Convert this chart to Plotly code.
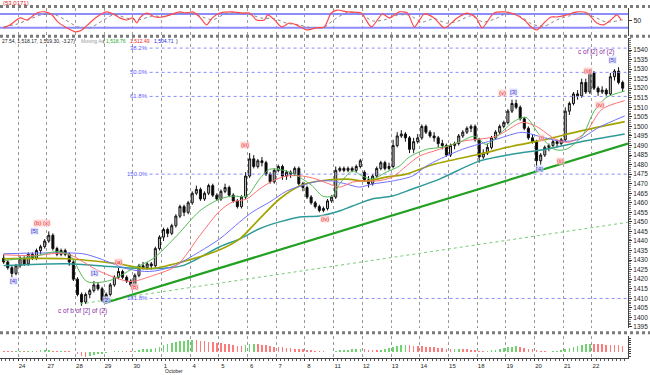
import plotly.graph_objects as go
from plotly.subplots import make_subplots

# ---------------- data ----------------
bars = list(range(152))
opens = [1431,1429,1426,1423,1427,1431,1428,1433,1431,1435,
         1437,1440,1443,1436,1433,1435,1433,1429,1420,1412,
         1408,1412,1414,1417,1415,1409,1412,1417,1421,1424,
         1421,1419,1417,1422,1427,1426,1428,1427,1436,1442,
         1446,1444,1448,1453,1458,1455,1460,1465,1467,1462,
         1465,1469,1464,1462,1466,1468,1464,1461,1458,1463,
         1474,1483,1479,1482,1481,1475,1471,1477,1479,1474,
         1476,1475,1478,1470,1468,1463,1460,1458,1456,1457,
         1461,1463,1477,1478,1477,1478,1477,1479,1476,1472,
         1470,1474,1478,1481,1478,1479,1490,1495,1496,1494,
         1488,1492,1494,1500,1497,1495,1494,1491,1490,1485,
         1490,1491,1495,1497,1499,1500,1493,1484,1486,1489,
         1494,1497,1500,1502,1508,1512,1510,1504,1499,1494,
         1492,1482,1485,1489,1490,1492,1491,1493,1508,1512,
         1517,1516,1523,1518,1528,1520,1518,1519,1517,1526,
         1529,1523]
highs = [1433,1430,1427,1428,1432,1432,1434,1434,1436,1438,
         1441,1445,1444,1437,1436,1436,1434,1430,1421,1413,
         1413,1415,1419,1418,1416,1413,1418,1422,1426,1425,
         1422,1420,1423,1428,1429,1429,1429,1437,1443,1447,
         1447,1449,1454,1459,1459,1461,1466,1469,1468,1466,
         1470,1470,1465,1467,1470,1469,1465,1462,1464,1476,
         1486,1485,1483,1484,1482,1476,1478,1480,1480,1477,
         1477,1479,1479,1471,1469,1464,1461,1459,1458,1462,
         1464,1479,1479,1479,1479,1479,1480,1483,1477,1474,
         1475,1479,1482,1482,1481,1493,1497,1498,1497,1495,
         1494,1496,1501,1501,1498,1497,1495,1493,1491,1491,
         1492,1496,1498,1500,1501,1501,1494,1488,1491,1495,
         1498,1501,1503,1509,1514,1514,1511,1505,1500,1496,
         1493,1486,1490,1491,1493,1493,1494,1510,1513,1518,
         1519,1525,1525,1530,1529,1521,1521,1520,1528,1530,
         1531,1524]
lows = [1428,1425,1421,1422,1426,1427,1427,1430,1430,1433,
        1436,1439,1435,1432,1432,1432,1427,1419,1411,1406,
        1407,1410,1413,1414,1408,1407,1411,1416,1420,1420,
        1418,1416,1416,1421,1425,1425,1425,1426,1435,1440,
        1442,1443,1447,1452,1453,1454,1459,1464,1461,1461,
        1464,1463,1461,1461,1465,1463,1460,1457,1457,1462,
        1473,1478,1478,1479,1474,1470,1470,1476,1472,1472,
        1473,1474,1469,1466,1462,1459,1457,1455,1455,1456,
        1460,1462,1476,1476,1476,1476,1476,1478,1471,1468,
        1469,1473,1477,1477,1477,1478,1489,1494,1492,1486,
        1486,1491,1493,1496,1494,1492,1489,1488,1484,1484,
        1488,1490,1494,1496,1497,1492,1481,1483,1485,1488,
        1493,1496,1499,1501,1507,1509,1503,1498,1493,1491,
        1478,1480,1484,1487,1489,1489,1490,1492,1506,1511,
        1514,1515,1517,1517,1519,1516,1517,1516,1516,1524,
        1522,1518]
closes = [1429,1426,1423,1427,1431,1428,1433,1431,1435,1437,
          1440,1443,1436,1433,1435,1433,1429,1420,1412,1408,
          1412,1414,1417,1415,1409,1412,1417,1421,1424,1421,
          1419,1417,1422,1427,1426,1428,1427,1436,1442,1446,
          1444,1448,1453,1458,1455,1460,1465,1467,1462,1465,
          1469,1464,1462,1466,1468,1464,1461,1458,1463,1474,
          1483,1479,1482,1481,1475,1471,1477,1479,1474,1476,
          1475,1478,1470,1468,1463,1460,1458,1456,1457,1461,
          1463,1477,1478,1477,1478,1477,1479,1482,1472,1470,
          1474,1478,1481,1478,1479,1490,1495,1496,1494,1488,
          1492,1494,1500,1497,1495,1494,1491,1490,1485,1490,
          1491,1495,1497,1499,1500,1493,1484,1486,1489,1494,
          1497,1500,1502,1508,1512,1510,1504,1499,1494,1492,
          1482,1485,1489,1490,1492,1491,1493,1508,1512,1517,
          1516,1523,1518,1528,1520,1518,1519,1517,1526,1529,
          1523,1520]

# moving averages (bar position, price)
ma_green_x = [0,7.2,13,16.2,20.3,25.9,31.5,36.4,42.2,47.8,52.7,55.8,59.3,62.4,64.9,69,72.2,75.3,77.8,80.2,
              81.9,85.1,87.5,89.9,93.3,96.5,98.9,103.1,107,111.1,114.8,117.7,120.9,124.5,127.4,130.6,134.3,137.2,141.1,144,147,151.5]
ma_green_y = [1429.7,1431.8,1434.4,1432.3,1418.8,1419.3,1425.5,1430.7,1442.7,1455.7,1462,1463.5,1463.5,1472.4,1477.6,1476.6,1473.4,1468.8,1463.5,1463.5,
              1469.8,1476.6,1474,1472.4,1476,1479.2,1483.9,1488,1489.1,1491.7,1494.8,1490.6,1495.8,1502.6,1504.7,1495.8,1488,1488,1494.8,1507.8,1515.1,1518.5]
ma_red_x = [0,7.2,15.4,23.5,30.8,36.4,42.2,47.8,52.7,55.8,59.3,62.4,65.6,69,72.9,76.3,79.5,81.9,85.1,87.5,
            90.9,94.8,98.2,101.4,106.3,111.9,120.1,126.5,129.9,134.7,137.9,142,145.9,151.5]
ma_red_y = [1432.8,1432.3,1433.3,1424,1418.8,1421.9,1427.1,1442.7,1455.7,1460.4,1462,1467.2,1471.4,1474,1474,1472.4,1469.8,1468.2,1470.8,1471.4,
            1471.4,1473.4,1479.2,1484.4,1488,1492.2,1494.8,1502.1,1500,1493.2,1491.7,1496.9,1508.9,1513.5]
ma_blue_x = [0,19.3,23.5,30,35.6,41.2,47.8,52.7,57.6,60.7,64.9,69,73.9,77,80.2,83.6,86.8,89.9,94.8,99.7,
             103.1,106.3,111.9,120.1,126.5,130.6,136.2,140.3,145.2,151.5]
ma_blue_y = [1433.3,1433.3,1430.7,1425.5,1424,1426.6,1434.4,1441.1,1450,1455.2,1460.4,1466.1,1469.8,1471.4,1471.4,1469.8,1468.2,1469.8,1471.4,1474,
             1479.2,1482.8,1488,1493.2,1496.9,1494.8,1492.2,1493.2,1499.5,1505.5]
ma_olive_x = [0,15.4,27.6,35.6,43.7,52.7,57.6,62.4,67.3,72.2,77,83.6,88.5,93.3,98.2,105,116,124,132.3,140.3,151.5]
ma_olive_y = [1430.7,1430.7,1428.1,1425.5,1429.2,1435.4,1441.1,1451.6,1462,1468.8,1471.4,1472.4,1471.4,1473.4,1475,1480.2,1485.4,1489.6,1493.2,1497.4,1502.5]
ma_teal_x = [0,15.4,25.9,35.6,43.7,52.7,57.6,62.4,67.3,72.2,77,81.9,85.1,89.9,94.8,99.7,106.3,116,124,132.3,140.3,151.5]
ma_teal_y = [1427.1,1428.1,1426.6,1425.5,1427.1,1437,1441.1,1446.4,1450,1452.6,1453.1,1455.7,1458.3,1462,1463.5,1467.2,1472.4,1481.8,1485.4,1488,1491.7,1496]

# trend lines
trend_x = [24.7, 152.3]
trend_y = [1407.5, 1491.0]
trend2_x = [18.6, 152.3]
trend2_y = [1407.0, 1449.8]

# fibonacci levels
fib_names = ["38.2%", "50.0%", "61.8%", "150.0%", "161.8%"]
fib_levels = [1541.0, 1528.3, 1515.7, 1475.0, 1409.9]
fib_start = 35.6

# wave labels: (text, bar, price, kind)
wave_text = ["[4]", "[5]", "(b) (x)", "c of b of [2] of (2)", "[1]", "[2]", "(a)", "(b)", "(iii)", "(iv)",
             "(v)", "[3]", "(i)", "(ii)", "[4]", "(iii)", "(iv)", "[5]", "c of [2] of (2)"]
wave_x = [2.3, 7.6, 9.4, 19.3, 22.2, 25.2, 27.9, 32.0, 58.8, 78.3,
          121.6, 124.3, 131.1, 135.9, 130.6, 142.5, 145.5, 148.4, 144.6]
wave_y = [1418.8, 1445.3, 1449.5, 1403.1, 1423.4, 1408.9, 1429.2, 1416.1, 1490.1, 1451.6,
          1517.7, 1518.2, 1493.8, 1481.8, 1477.6, 1529.2, 1511.0, 1535.0, 1538.8]
wave_kind = ["b", "b", "r", "p", "b", "b", "r", "r", "r", "r",
             "r", "b", "r", "r", "b", "r", "r", "b", "p"]

# stochastic
stoch_k_x = [0,1.6,4,5.7,8.1,10.1,11.8,13.2,15.4,17.4,19.1,20.5,22.7,25.2,27.1,28.3,30,31.5,32.5,33.2,
             34.9,36.9,38.8,40.5,43,44.6,46.1,47.8,49.5,50.9,52.7,55.8,58.3,60,61.7,63.6,64.4,66.1,67.8,69.7,
             71.4,73.9,76.3,78.2,79.9,81.4,83.8,87.2,89.7,92.4,94.1,96.5,98.5,100.2,102.6,105,107.5,110.6,113.1,115.3,
             116.7,119.6,122.1,124.5,127,128.9,130.1,131.8,133.5,135,137.4,139.9,142.3,144.7,146.4,148.1,149.6,150.6]
stoch_k_v = [19,33,63,54,84,89,76,46,20,3,11,33,67,89,76,63,54,63,41,63,
             84,67,67,76,89,84,89,67,33,63,84,89,84,84,54,54,76,54,24,41,
             33,11,20,24,84,97,89,84,24,80,63,89,84,24,80,63,20,63,84,63,
             20,84,89,80,54,20,11,41,67,67,76,89,84,41,33,54,76,54]
stoch_d_x = [0,3,6,9,12,15,18,21,24,27,30,33,36,39,42,45,48,51,54,57,60,63,66,69,72,75,78,81,84,87,
             90,93,96,99,102,105,108,111,114,117,120,123,126,129,132,135,138,141,144,147,151]
stoch_d_v = [25,35,55,75,80,55,25,20,50,78,62,55,70,70,80,86,70,55,80,86,78,62,60,40,33,20,22,60,88,82,
             50,55,75,75,45,60,40,50,72,45,60,84,70,35,28,55,72,82,68,45,55]
stoch_levels = [80, 20]

# histogram
hist = [0.8,0.6,0.5,0.7,
        0.8,0.7,0.9,1.0,0.9,1.1,1.2,
        1.3,1.0,0.8,0.9,0.7,0.4,-0.6,
        -2.0,-3.5,-4.5,-4.0,-3.0,-2.3,-1.8,
        -1.2,-0.5,0.3,0.8,1.0,0.8,0.6,
        1.0,1.5,2.0,2.2,2.5,3.5,4.5,
        5.5,6.5,7.5,8.5,9.5,9.8,10.2,
        10.5,10.0,9.6,9.2,8.8,8.4,8.0,
        7.6,7.2,6.6,6.0,5.4,5.0,5.5,
        6.5,6.8,6.6,6.2,5.6,5.0,4.6,
        4.2,3.8,3.4,3.0,2.8,2.4,2.0,
        1.6,1.2,0.8,0.4,0.3,0.1,0.2,
        0.8,1.2,1.6,1.9,2.2,2.4,2.6,
        2.2,1.8,1.4,1.2,1.6,2.2,3.0,
        3.8,4.8,5.6,6.2,5.8,5.4,5.0,
        4.8,4.5,4.2,3.8,3.4,3.0,2.6,
        2.4,2.5,2.7,2.5,2.2,1.8,1.4,
        1.0,0.8,1.0,1.4,1.9,2.5,3.2,
        4.0,4.6,5.0,4.4,3.6,2.8,2.0,
        1.4,0.8,0.4,0.2,0.5,0.9,1.3,
        2.2,3.2,4.2,5.0,5.8,6.4,7.0,
        6.8,6.6,6.4,6.2,6.0,5.8,5.6,5.4]

day_labels = ["24", "27", "28", "29", "30", "1", "4", "5", "6", "7", "8",
              "11", "12", "13", "14", "15", "18", "19", "20", "21", "22"]
day_starts = [3.5 + 7 * k for k in range(len(day_labels))]
price_ticks = list(range(1395, 1545, 5))

header_parts = [("27.54, 1,518.17, 1,519.30, -3.27)", "#222222", 0),
                ("Moving Av", "#999999", 79),
                ("(", "#222222", 101),
                ("1,518.76", "#22aa22", 104),
                ("1,512.49", "#ee2222", 128),
                ("1,504.71", "#2222ee", 152),
                (")", "#222222", 174)]

# ---------------- figure ----------------
FONT = "Liberation Sans"
W, H = 650, 375
fig = make_subplots(rows=3, cols=1, shared_xaxes=True, vertical_spacing=0.0)

# stochastic panel
for lv in stoch_levels:
    fig.add_trace(go.Scatter(x=[-1, 153], y=[lv, lv], mode="lines",
                             line=dict(color="#8c8cff", width=2), hoverinfo="skip"), row=1, col=1)
fig.add_trace(go.Scatter(x=stoch_d_x, y=stoch_d_v, mode="lines",
                         line=dict(color="#888888", width=1, dash="dot", shape="spline", smoothing=0.7)), row=1, col=1)
fig.add_trace(go.Scatter(x=stoch_k_x, y=stoch_k_v, mode="lines",
                         line=dict(color="#ff4a4a", width=1.2, shape="spline", smoothing=0.7)), row=1, col=1)

# main panel: fib lines
for lv in fib_levels:
    fig.add_trace(go.Scatter(x=[fib_start, 153], y=[lv, lv], mode="lines",
                             line=dict(color="#8a8aff", width=1, dash="dot"), hoverinfo="skip"), row=2, col=1)
# trend lines
fig.add_trace(go.Scatter(x=trend2_x, y=trend2_y, mode="lines",
                         line=dict(color="#77cc77", width=1, dash="dot")), row=2, col=1)
fig.add_trace(go.Scatter(x=trend_x, y=trend_y, mode="lines",
                         line=dict(color="#22a022", width=2.2)), row=2, col=1)
# moving averages
for xs, ys, col, wd in [(ma_teal_x, ma_teal_y, "#2f9a9a", 1.5),
                        (ma_olive_x, ma_olive_y, "#a4a400", 1.7),
                        (ma_blue_x, ma_blue_y, "#7070ff", 1),
                        (ma_red_x, ma_red_y, "#ff7070", 1),
                        (ma_green_x, ma_green_y, "#55bb55", 1)]:
    fig.add_trace(go.Scatter(x=xs, y=ys, mode="lines",
                             line=dict(color=col, width=wd, shape="spline", smoothing=0.8)), row=2, col=1)
# candles
fig.add_trace(go.Candlestick(x=bars, open=opens, high=highs, low=lows, close=closes,
                             increasing=dict(line=dict(color="#111111", width=1), fillcolor="#c4c4c4"),
                             decreasing=dict(line=dict(color="#111111", width=1), fillcolor="#000000"),
                             whiskerwidth=0), row=2, col=1)

# histogram
hcolors = []
for k, v in enumerate(hist):
    prev = hist[k - 1] if k > 0 else v + 1
    hcolors.append("#6fd36f" if v >= prev else "#ff7b7b")
fig.add_trace(go.Bar(x=bars, y=hist, width=0.4, marker=dict(color=hcolors, line=dict(width=0))), row=3, col=1)

XR = [-0.9, 152.3]
xdom = [0, 628 / W]
grid = dict(showgrid=True, gridcolor="#9a9a9a", griddash="dot", gridwidth=1,
            tickvals=day_starts, range=XR, domain=xdom, zeroline=False)
fig.update_layout(
    width=W, height=H, margin=dict(l=0, r=0, t=0, b=0),
    paper_bgcolor="white", plot_bgcolor="white", showlegend=False,
    font=dict(family=FONT, size=7, color="#222222"),
    bargap=0, hovermode=False,
    xaxis=dict(**grid, showticklabels=False, rangeslider=dict(visible=False)),
    xaxis2=dict(**grid, showticklabels=False, rangeslider=dict(visible=False)),
    xaxis3=dict(**grid, ticktext=day_labels, showticklabels=True, ticks="outside", ticklen=2,
                tickcolor="#333", tickfont=dict(size=6, color="#222"), ticklabelshift=4,
                ticklabelstandoff=0,
                minor=dict(dtick=1, tick0=0.5, ticks="outside", ticklen=2, tickcolor="#555", showgrid=False),
                showline=True, linecolor="#444", linewidth=1, rangeslider=dict(visible=False)),
    yaxis=dict(domain=[1 - 36 / H, 1 - 8 / H], range=[-14.3, 106], side="right",
               tickvals=[50], ticktext=["50"], ticks="outside", ticklen=3, showgrid=False,
               zeroline=False, showline=True, linecolor="#444", tickfont=dict(size=7)),
    yaxis2=dict(domain=[1 - 330 / H, 1 - 38 / H], range=[1394.3, 1546.4], side="right",
                tickvals=price_ticks, ticktext=[str(t) for t in price_ticks],
                ticks="outside", ticklen=3, tickcolor="#333", showgrid=False, zeroline=False,
                showline=True, linecolor="#444", tickfont=dict(size=6.5),
                minor=dict(dtick=1, ticks="outside", ticklen=1.5, tickcolor="#777")),
    yaxis3=dict(domain=[1 - 360 / H, 1 - 338 / H], range=[-5.6, 13.7], side="right",
                showticklabels=False, ticks="outside", ticklen=2, dtick=2, showgrid=False,
                zeroline=False, showline=True, linecolor="#444"),
)

# panel separators
for ypx in [6.5, 36.5, 334.5]:
    fig.add_shape(type="line", xref="paper", yref="paper", x0=0, x1=1,
                  y0=1 - ypx / H, y1=1 - ypx / H, line=dict(color="#7a7a7a", width=3, dash="dot"))

ann = []
# header texts
ann.append(dict(text="(53.0171)", x=1 / W, y=1 - 3 / H, xref="paper", yref="paper",
                xanchor="left", yanchor="middle", showarrow=False, font=dict(size=6, color="#e02020")))
for txt, col, xp in header_parts:
    ann.append(dict(text=txt, x=xp / W, y=1 - 41 / H, xref="paper", yref="paper",
                    xanchor="left", yanchor="middle", showarrow=False, font=dict(size=5, color=col)))
# fib labels
for name, lv in zip(fib_names, fib_levels):
    ann.append(dict(text=name, x=fib_start, y=lv, xref="x2", yref="y2", xanchor="right",
                    yanchor="middle", showarrow=False, font=dict(size=6, color="#5a5aff")))
# wave labels
kind_style = {"b": ("#3a3ac8", "rgba(215,215,255,0.8)"),
              "r": ("#e83030", "rgba(255,205,205,0.8)"),
              "p": ("#8a2aa8", "rgba(0,0,0,0)")}
for t, xv, yv, k in zip(wave_text, wave_x, wave_y, wave_kind):
    fc, bg = kind_style[k]
    ann.append(dict(text=t, x=xv, y=yv, xref="x2", yref="y2", showarrow=False,
                    font=dict(size=6 if k != "p" else 6.5, color=fc), bgcolor=bg, borderpad=0))
# month label
ann.append(dict(text="October", x=163 / W, y=1 - 372.5 / H, xref="paper", yref="paper",
                xanchor="left", yanchor="middle", showarrow=False, font=dict(size=5, color="#222")))
fig.update_layout(annotations=ann)

fig.write_html("out.html", config={"displayModeBar": False, "staticPlot": True},
               post_script="document.body.style.margin='0px';document.body.style.overflow='hidden';")
